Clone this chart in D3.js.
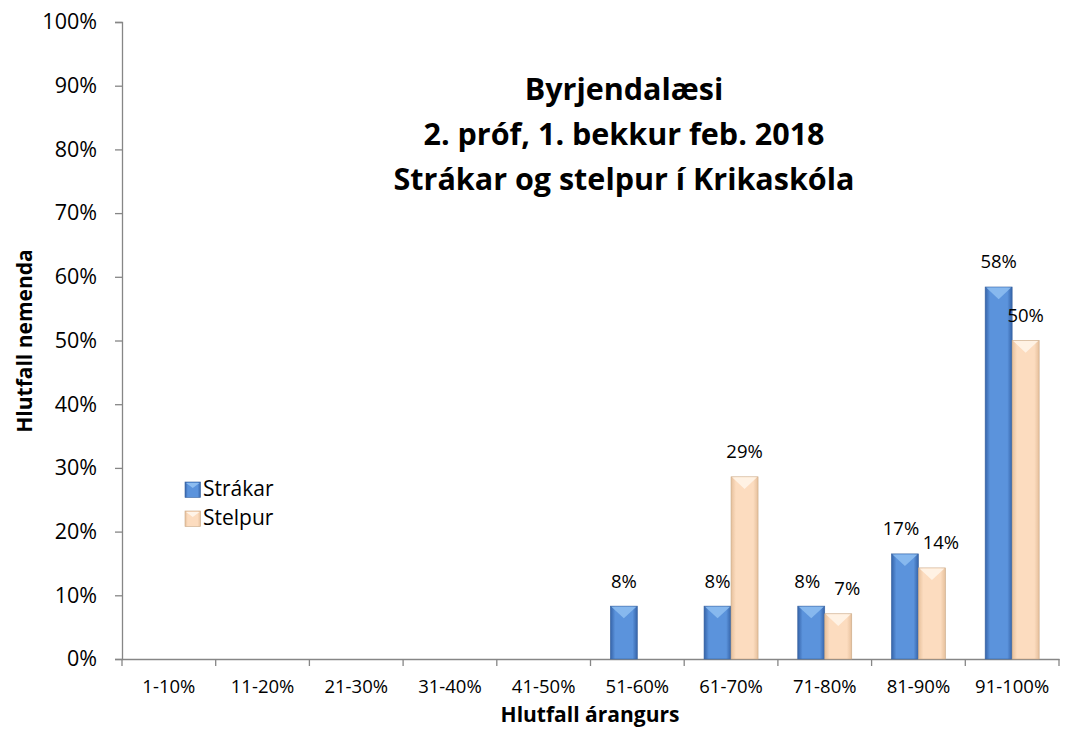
<!DOCTYPE html>
<meta charset="utf-8">
<style>
  body{ margin:0; background:#fff; }
  svg text{ font-family: "Open Sans", sans-serif; fill:#000; }
  .axis path, .axis line{ stroke:#868686; stroke-width:1.3px; }
  .axis text{ font-family: "Open Sans", sans-serif; fill:#000; }
</style>
<body>
<script src="https://cdn.jsdelivr.net/npm/d3@7"></script>
<script>

  var categories = ["1-10%","11-20%","21-30%","31-40%","41-50%","51-60%","61-70%","71-80%","81-90%","91-100%"];
  var series = ["Strákar","Stelpur"];
  var strakar = [0,0,0,0,0,8.3,8.3,8.3,16.5,58.4];
  var stelpur = [0,0,0,0,0,0,28.6,7.1,14.3,50];
  var yTicks = [0,10,20,30,40,50,60,70,80,90,100];
  var titleLines = ["Byrjendalæsi","2. próf, 1. bekkur feb. 2018","Strákar og stelpur í Krikaskóla"];

  var W = 1066, H = 738;
  var m = {left:122, right:7, top:22, bottom:79};

  var svg = d3.select("body").append("svg").attr("width",W).attr("height",H);
  var defs = svg.append("defs");

  // bevel-ish colours
  var pal = {
    "Strákar": {edge:"#3563a8", mid:"#5b93dc", top:"#8cbcf0", stroke:"#3a64a0"},
    "Stelpur": {edge:"#e6c09c", mid:"#fcdcbf", top:"#fff4e8", stroke:"#c9a886"}
  };
  series.forEach(function(s,i){
    var g = defs.append("linearGradient").attr("id","grad"+i)
      .attr("x1","0%").attr("x2","100%").attr("y1","0%").attr("y2","0%");
    g.append("stop").attr("offset","0%").attr("stop-color",pal[s].edge);
    g.append("stop").attr("offset","18%").attr("stop-color",pal[s].mid);
    g.append("stop").attr("offset","82%").attr("stop-color",pal[s].mid);
    g.append("stop").attr("offset","100%").attr("stop-color",pal[s].edge);
  });

  var x0 = d3.scaleBand().domain(categories).range([m.left, W - m.right]).padding(0);
  var x1 = d3.scaleBand().domain(series).range([0, x0.bandwidth()])
             .paddingInner(0).paddingOuter(0.735);
  var y = d3.scaleLinear().domain([0,100]).range([H - m.bottom, m.top]);

  var data = [];
  categories.forEach(function(c,i){
    // labels that sit close together get pushed apart a little
    var near = strakar[i] > 0 && stelpur[i] > 0 && Math.abs(y(strakar[i]) - y(stelpur[i])) < 25;
    data.push({cat:c, s:"Strákar", si:0, v:strakar[i], dx: near ? -4 : 0});
    data.push({cat:c, s:"Stelpur", si:1, v:stelpur[i], dx: near ? 9 : 0});
  });
  var bars = data.filter(function(d){ return d.v > 0; });

  // axes
  svg.append("g").attr("class","axis")
    .attr("transform","translate("+m.left+",0)")
    .call(d3.axisLeft(y).tickValues(yTicks).tickSize(7).tickPadding(18)
      .tickFormat(function(d){ return d + "%"; }))
    .call(function(g){ g.selectAll("text").style("font-size","21.5px"); });

  svg.append("g").attr("class","axis")
    .attr("transform","translate(0,"+(H - m.bottom)+")")
    .call(d3.axisBottom(x0).tickSize(0))
    .call(function(g){
      g.selectAll("text").attr("dy",null).attr("y",34).style("font-size","18.5px");
      g.selectAll(".tick line").remove();
    });
  // category boundary ticks
  svg.append("g").selectAll("line")
    .data(categories.concat(["end"]))
    .join("line")
    .attr("x1",function(d,i){ return m.left + i*x0.bandwidth(); })
    .attr("x2",function(d,i){ return m.left + i*x0.bandwidth(); })
    .attr("y1",H - m.bottom).attr("y2",H - m.bottom + 7)
    .attr("stroke","#868686").attr("stroke-width",1.3);

  // bars
  var bg = svg.append("g").selectAll("g").data(bars).join("g")
    .attr("transform",function(d){ return "translate("+(x0(d.cat)+x1(d.s))+",0)"; });
  var bw = x1.bandwidth();
  bg.append("rect")
    .attr("x",0).attr("width",bw)
    .attr("y",function(d){ return y(d.v); })
    .attr("height",function(d){ return y(0) - y(d.v); })
    .attr("fill",function(d){ return "url(#grad"+d.si+")"; })
    .attr("stroke",function(d){ return pal[d.s].stroke; })
    .attr("stroke-width",0.6);
  bg.append("path")
    .attr("d",function(d){
      var t = y(d.v), dep = Math.min(bw*0.45, (y(0)-y(d.v))/2);
      return "M1,"+(t+0.5)+"L"+(bw-1)+","+(t+0.5)+"L"+(bw/2)+","+(t+dep)+"Z";
    })
    .attr("fill",function(d){ return pal[d.s].top; })
    .attr("opacity",0.9);

  // value labels
  bg.append("text")
    .attr("x",function(d){ return bw/2 + d.dx; })
    .attr("y",function(d){ return y(d.v) - 18.5; })
    .attr("text-anchor","middle")
    .style("font-size","18.5px")
    .text(function(d){ return Math.round(d.v) + "%"; });

  // title
  svg.append("g").selectAll("text").data(titleLines).join("text")
    .attr("x",624).attr("y",function(d,i){ return 100 + i*45; })
    .attr("text-anchor","middle")
    .style("font-size","30.5px").style("font-weight","bold")
    .text(function(d){ return d; });

  // axis titles
  svg.append("text")
    .attr("transform","translate(32,341) rotate(-90)")
    .attr("text-anchor","middle")
    .style("font-size","21px").style("font-weight","bold")
    .text("Hlutfall nemenda");
  svg.append("text")
    .attr("x",590).attr("y",722)
    .attr("text-anchor","middle")
    .style("font-size","21px").style("font-weight","bold")
    .text("Hlutfall árangurs");

  // legend
  var lg = svg.append("g").selectAll("g").data(series).join("g")
    .attr("transform",function(d,i){ return "translate(185,"+(482 + i*29)+")"; });
  lg.append("rect").attr("width",15.5).attr("height",15.5)
    .attr("fill",function(d,i){ return "url(#grad"+i+")"; })
    .attr("stroke",function(d){ return pal[d].stroke; }).attr("stroke-width",0.6);
  lg.append("path").attr("d","M1,1L14.5,1L7.75,6Z")
    .attr("fill",function(d){ return pal[d].top; });
  lg.append("text").attr("x",18).attr("y",13.5)
    .style("font-size","21px")
    .text(function(d){ return d; });

</script>
</body>
